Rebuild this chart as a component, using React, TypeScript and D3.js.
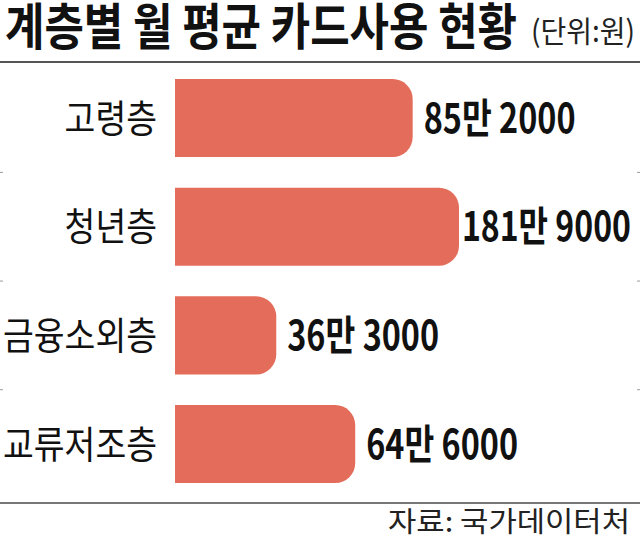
import React from "react";
import * as d3 from "d3";

const categories = ["고령층", "청년층", "금융소외층", "교류저조층"];
const values = [85.2, 181.9, 36.3, 64.6]; // 만원
const valueLabels = ["85만 2000", "181만 9000", "36만 3000", "64만 6000"];
const titleText = "계층별 월 평균 카드사용 현황";
const unitText = "(단위:원)";
const sourceText = "자료: 국가데이터처";

const W = 640;
const H = 545;
const BAR_COLOR = "#E36D5A";
const FONT = "'Noto Sans CJK KR', 'Noto Sans', sans-serif";

// approximate rendered widths of the condensed type used in the graphic
const valueWidth = (s: string) => {
  let w = 0;
  for (const ch of s) {
    if (/[0-9]/.test(ch)) w += 17.3;
    else if (ch === " ") w += 12;
    else w += 36;
  }
  return w;
};

export default function App() {
  const y = d3
    .scaleBand<string>()
    .domain(categories)
    .range([63.7, 498.4])
    .paddingInner(0.282)
    .paddingOuter(0.141);

  // The longest bar is truncated in the original graphic: clamp the scale.
  const x = d3.scaleLinear().domain([0, 101.8]).range([175, 459]).clamp(true);

  const r = 20;
  const barPath = (v: number, cat: string) => {
    const x0 = x(0);
    const x1 = x(v);
    const y0 = y(cat)!;
    const y1 = y0 + y.bandwidth();
    const p = d3.path();
    p.moveTo(x0, y0);
    p.lineTo(x1 - r, y0);
    p.arcTo(x1, y0, x1, y0 + r, r);
    p.lineTo(x1, y1 - r);
    p.arcTo(x1, y1, x1 - r, y1, r);
    p.lineTo(x0, y1);
    p.closePath();
    return p.toString();
  };

  const boundaries = categories.slice(0, -1).map((c) => {
    const gap = y.step() - y.bandwidth();
    return y(c)! + y.bandwidth() + gap / 2;
  });

  return (
    <svg
      width={W}
      height={H}
      style={{ position: "absolute", left: 0, top: 0, background: "#fff" }}
      fontFamily={FONT}
    >
      <rect x={0} y={0} width={W} height={H} fill="#fff" />
      {/* Title */}
      <text
        x={5}
        y={45}
        fontSize={50}
        fontWeight={700}
        fill="#111"
        textLength={512}
        lengthAdjust="spacingAndGlyphs"
      >
        {titleText}
      </text>
      <text
        x={531}
        y={42}
        fontSize={30}
        fontWeight={400}
        fill="#222"
        textLength={104}
        lengthAdjust="spacingAndGlyphs"
      >
        {unitText}
      </text>
      <line x1={0} x2={W} y1={62} y2={62} stroke="#555" strokeWidth={2} />
      <line x1={0} x2={W} y1={503} y2={503} stroke="#777" strokeWidth={2} />

      {/* boundary ticks */}
      {boundaries.map((b, i) => (
        <g key={i} stroke="#999" strokeWidth={1}>
          <line x1={0} x2={3} y1={b} y2={b} />
          <line x1={637} x2={640} y1={b} y2={b} />
        </g>
      ))}

      {categories.map((c, i) => {
        const cy = y(c)! + y.bandwidth() / 2;
        const lw = c.length * 30.8;
        const vw = valueWidth(valueLabels[i]);
        const vx = Math.min(x(values[i]) + 11, 631 - vw);
        return (
          <g key={c}>
            <path d={barPath(values[i], c)} fill={BAR_COLOR} />
            <text
              x={157 - lw}
              y={cy + 13.5}
              fontSize={38}
              fontWeight={400}
              fill="#111"
              textLength={lw}
              lengthAdjust="spacingAndGlyphs"
            >
              {c}
            </text>
            <text
              x={vx}
              y={cy + 14.5}
              fontSize={41}
              fontWeight={700}
              fill="#111"
              textLength={vw}
              lengthAdjust="spacingAndGlyphs"
            >
              {valueLabels[i]}
            </text>
          </g>
        );
      })}

      {/* Source */}
      <text
        x={388}
        y={532}
        fontSize={28}
        fontWeight={400}
        fill="#222"
        textLength={242}
        lengthAdjust="spacingAndGlyphs"
      >
        {sourceText}
      </text>
    </svg>
  );
}
